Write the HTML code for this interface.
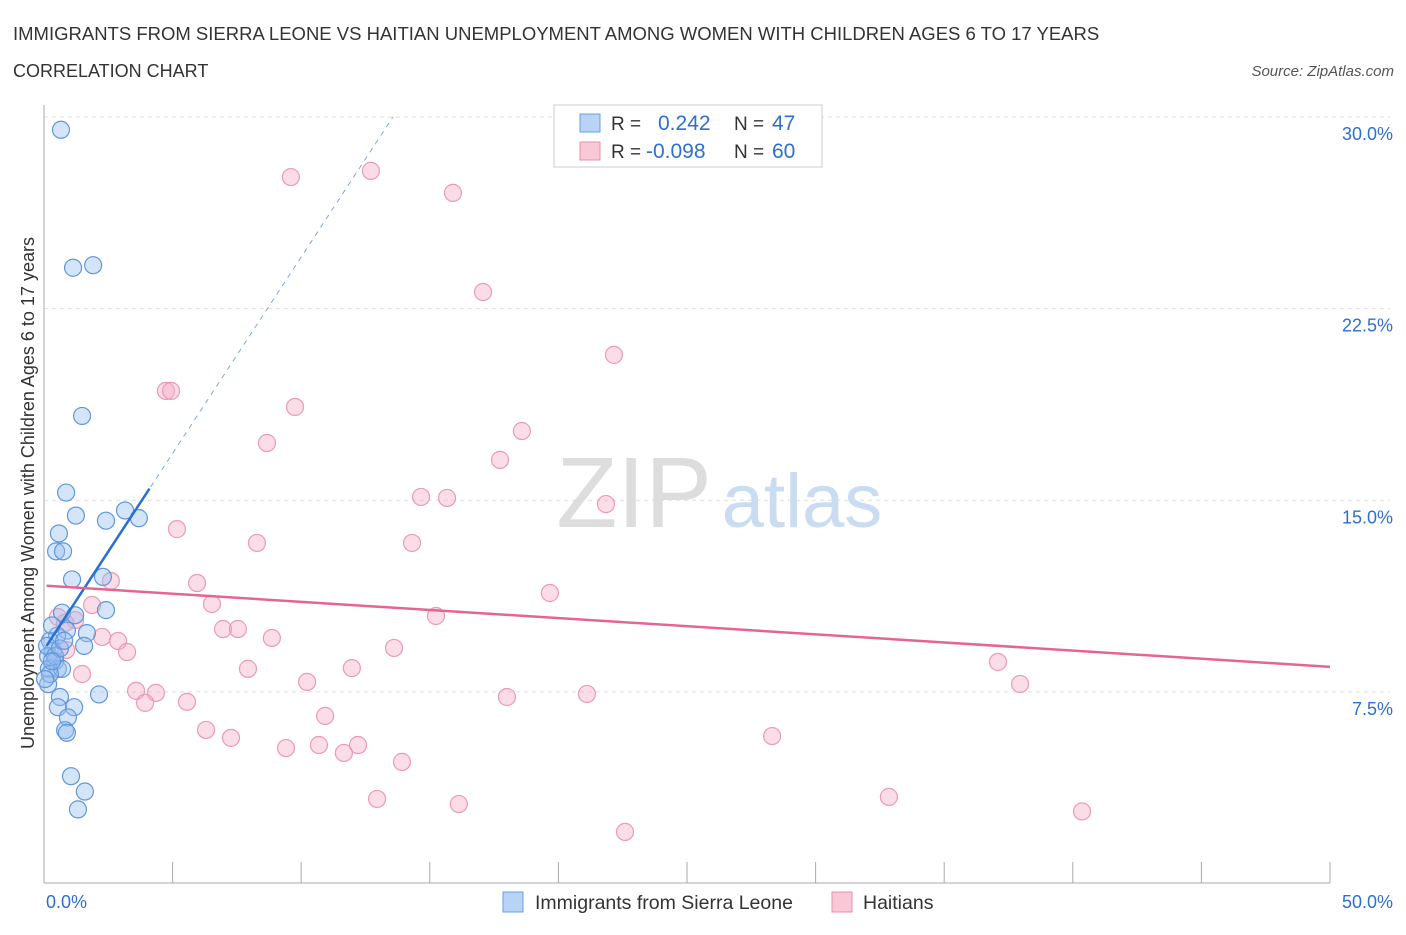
<!DOCTYPE html>
<html><head><meta charset="utf-8"><style>
body{margin:0;background:#fff;font-family:"Liberation Sans",sans-serif;}
svg text{font-family:"Liberation Sans",sans-serif;}
</style></head><body>
<svg id="chart" width="1406" height="930">
<text x="13" y="40" font-size="18.5" fill="#333">IMMIGRANTS FROM SIERRA LEONE VS HAITIAN UNEMPLOYMENT AMONG WOMEN WITH CHILDREN AGES 6 TO 17 YEARS</text>
<text x="13" y="77" font-size="18" fill="#333">CORRELATION CHART</text>
<text x="1394" y="76" font-size="15" fill="#555" font-style="italic" text-anchor="end">Source: ZipAtlas.com</text>
<text x="634" y="527" font-size="100" fill="#ddd" font-family="Liberation Serif" text-anchor="middle">ZIP</text>
<text x="802" y="527" font-size="76" fill="#c9dcf2" text-anchor="middle">atlas</text>
<text transform="translate(34,493) rotate(-90)" font-size="18" fill="#333" text-anchor="middle">Unemployment Among Women with Children Ages 6 to 17 years</text>
<g id="grid"></g><g id="marks"></g>
<g>
<rect x="554" y="105" width="268" height="62" fill="#fff" stroke="#ccc"/>
<rect x="580" y="114" width="20" height="18" fill="#b7d3f5" stroke="#6a9fe0"/>
<rect x="580" y="142" width="20" height="18" fill="#f9c8d7" stroke="#eb8fab"/>
<text x="611" y="130" font-size="19" fill="#333">R = </text><text x="658" y="130" font-size="21" fill="#2f6fd0">0.242</text>
<text x="734" y="130" font-size="19" fill="#333">N = </text><text x="772" y="130" font-size="21" fill="#2f6fd0">47</text>
<text x="611" y="158" font-size="19" fill="#333">R = </text><text x="646" y="158" font-size="21" fill="#2f6fd0">-0.098</text>
<text x="734" y="158" font-size="19" fill="#333">N = </text><text x="772" y="158" font-size="21" fill="#2f6fd0">60</text>
</g>
<g>
<rect x="503" y="892" width="20" height="20" fill="#b7d3f5" stroke="#6a9fe0"/>
<text x="535" y="909" font-size="19.5" fill="#333">Immigrants from Sierra Leone</text>
<rect x="832" y="892" width="20" height="20" fill="#f9c8d7" stroke="#eb8fab"/>
<text x="863" y="909" font-size="19.5" fill="#333">Haitians</text>
</g>
</svg>
<script>
const xTicks=[0,5,10,15,20,25,30,35,40,45,50];
const yTicks=[7.5,15,22.5,30];
const blueX=[0.66,1.13,1.91,1.48,0.86,1.24,2.41,3.15,3.69,0.58,0.47,0.74,1.09,2.29,2.41,0.70,1.21,0.89,1.67,0.51,1.56,0.23,0.35,0.16,0.43,0.54,0.19,0.70,0.16,0.62,0.54,1.17,0.93,0.82,0.89,2.14,1.05,1.59,1.32,0.31,0.12,0.23,0.43,0.62,0.31,0.04,0.78];
const blueY=[29.5,24.1,24.2,18.3,15.3,14.4,14.2,14.6,14.3,13.7,13.0,13.0,11.9,12.0,10.7,10.6,10.5,9.9,9.8,9.7,9.3,9.5,9.1,8.9,8.7,8.4,8.4,8.4,7.8,7.3,6.9,6.9,6.5,6.0,5.9,7.4,4.2,3.6,2.9,10.1,9.3,8.2,8.9,9.2,8.7,8.0,9.5];
const pinkX=[9.60,12.71,15.90,17.07,22.16,4.74,4.94,9.76,8.67,18.58,17.73,14.66,15.67,21.85,5.17,8.28,14.31,2.60,5.95,19.67,1.87,6.53,15.24,1.21,0.54,0.82,6.96,7.54,2.26,2.88,8.86,3.23,13.61,7.93,11.97,37.09,37.95,1.48,10.23,3.58,4.35,3.93,5.56,18.00,21.11,10.93,6.30,7.27,9.41,10.69,11.66,12.21,13.92,28.31,12.95,16.13,32.85,40.36,22.59,0.86];
const pinkY=[27.65,27.89,27.03,23.15,20.69,19.28,19.28,18.65,17.24,17.71,16.58,15.13,15.09,14.85,13.87,13.33,13.33,11.84,11.76,11.37,10.90,10.94,10.47,10.31,10.43,10.20,9.96,9.96,9.65,9.49,9.61,9.06,9.22,8.40,8.43,8.67,7.81,8.20,7.89,7.54,7.46,7.07,7.11,7.30,7.42,6.56,6.01,5.70,5.30,5.42,5.11,5.42,4.76,5.77,3.31,3.11,3.39,2.82,2.02,9.14];
const blueTrend=[9.15,1.537];
const pinkTrend=[11.66,-0.0636];
const X=v=>44+v*25.72, Y=v=>883.5-v*25.55;
const NS='http://www.w3.org/2000/svg';
function mk(t,a,p){const e=document.createElementNS(NS,t);for(const k in a)e.setAttribute(k,a[k]);p.appendChild(e);return e;}
const g=document.getElementById('grid'), m=document.getElementById('marks');
yTicks.forEach(t=>{
 const l=mk('line',{x1:44,x2:1390,y1:Y(t),y2:Y(t),stroke:'#ddd','stroke-dasharray':'4,4'},g);
 
 
 const tx=mk('text',{x:1393,y:Y(t)+23,'font-size':18,fill:'#2f6fd0','text-anchor':'end'},g);tx.textContent=t.toFixed(1)+'%';
 
 
});
mk('line',{x1:44,x2:44,y1:105,y2:883,stroke:'#aaa'},g);
mk('line',{x1:44,x2:1330,y1:883,y2:883,stroke:'#aaa'},g);
xTicks.forEach(t=>{const l=mk('line',{x1:X(t),x2:X(t),y1:862,y2:883,stroke:'#aaa'},g);
 
 });
[[0,'start'],[50,'end']].forEach(([t,a])=>{const tx=mk('text',{x:t?1393:46,y:908,'font-size':18,fill:'#2f6fd0','text-anchor':a},g);tx.textContent=t.toFixed(1)+'%';
 
 });
pinkX.forEach((x,i)=>{const c=mk('circle',{cx:X(x),cy:Y(pinkY[i]),r:8.5,fill:'rgba(245,170,195,0.4)',stroke:'#eb9ab4','stroke-width':1.2},m);
 
 });
blueX.forEach((x,i)=>{const c=mk('circle',{cx:X(x),cy:Y(blueY[i]),r:8.5,fill:'rgba(150,190,240,0.4)',stroke:'#5f97dd','stroke-width':1.2},m);
 
 });
const bl=v=>blueTrend[0]+blueTrend[1]*v, pl=v=>pinkTrend[0]+pinkTrend[1]*v;
const xEnd=(30-blueTrend[0])/blueTrend[1];
let l=mk('line',{x1:X(0.1),y1:Y(bl(0.1)),x2:X(xEnd),y2:Y(30),stroke:'#7aa8e0','stroke-dasharray':'5,5','stroke-width':1},m);


l=mk('line',{x1:X(0.1),y1:Y(bl(0.1)),x2:X(4.1),y2:Y(bl(4.1)),stroke:'#2a6fd4','stroke-width':2.5},m);


l=mk('line',{x1:X(0.1),y1:Y(pl(0.1)),x2:X(50),y2:Y(pl(50)),stroke:'#e4668f','stroke-width':2.5},m);


</script>
</body></html>
